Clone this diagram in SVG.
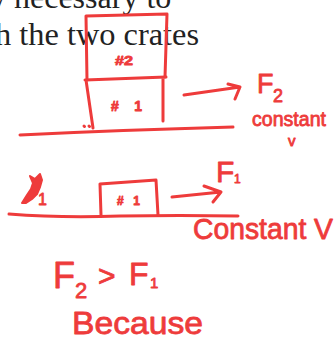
<svg xmlns="http://www.w3.org/2000/svg" width="335" height="349" viewBox="0 0 335 349">
<style>
.ink{fill:none;stroke:#ee3b3b;stroke-width:3;stroke-linecap:round;stroke-linejoin:round}
.hw{fill:#ee3b3b;stroke:#ee3b3b;stroke-width:0.8;stroke-linejoin:round;font-family:"Liberation Sans",Arial,sans-serif}
.pr{fill:#222;font-family:"Liberation Serif","Times New Roman",serif;font-size:32px}
</style>
<rect width="335" height="349" fill="#fff"/>
<g id="printed-text">
<text class="pr" x="-10" y="8">y necessary to</text>
<text class="pr" x="-5" y="45" textLength="204" lengthAdjust="spacingAndGlyphs">h the two crates</text>
</g>
<g id="scene-stacked">
<g id="crate2">
<path class="ink" d="M86,16 L167,14 L165,77 M86,16 L87,80"/>
<text class="hw" x="115" y="65" font-size="12" font-weight="bold" textLength="18" lengthAdjust="spacingAndGlyphs">#2</text>
</g>
<g id="crate1-stacked">
<path class="ink" d="M85,80 L166,77 M86,80 L93,128 M163,78 L163,121"/>
<text class="hw" x="111" y="111" font-size="14" font-weight="bold" textLength="31" lengthAdjust="spacing">#1</text>
</g>
<path class="ink" d="M20,135 Q120,130 233,127"/>
<path class="ink" d="M84,126 l0.5,0.5 M89,126 l0.5,0.5"/>
<g id="F2-arrow">
<path class="ink" d="M184,95 L240,87 M228,84 L240,87 L235,99"/>
</g>
<g id="F2-label">
<text class="hw" x="257" y="93" font-size="27">F</text>
<text class="hw" x="273" y="102" font-size="18">2</text>
<text class="hw" x="252" y="126" font-size="20" textLength="74" lengthAdjust="spacingAndGlyphs">constant</text>
<text class="hw" x="288" y="146" font-size="15">v</text>
</g>
</g>
<g id="scene-single">
<path class="ink" d="M9,214 Q60,218 120,216 Q180,215 238,216"/>
<g id="crate1">
<path class="ink" d="M100,184 L156,180 L158,215 M100,184 L101,215"/>
<text class="hw" x="117" y="205" font-size="12" font-weight="bold" textLength="23" lengthAdjust="spacing">#1</text>
</g>
<g id="m1">
<path d="M22,203 L27,195 L31,189 L33,183 L30,176 L35,179 L40,174 L42,180 L40,187 L37,194 L32,199 L26,203 Z" fill="#ee3b3b" stroke="#ee3b3b" stroke-width="2" stroke-linejoin="round"/>
<text class="hw" x="38" y="205" font-size="16">1</text>
</g>
<g id="F1-arrow">
<path class="ink" d="M172,197 L221,192 M204,186 L221,192 L213,202"/>
</g>
<g id="F1-label">
<text class="hw" x="216" y="182" font-size="30">F</text>
<text class="hw" x="234" y="183" font-size="12">1</text>
<text class="hw" x="193" y="239" font-size="29" textLength="140" lengthAdjust="spacingAndGlyphs">Constant V</text>
</g>
</g>
<g id="conclusion">
<text class="hw" x="53" y="288" font-size="36">F</text>
<text class="hw" x="75" y="298" font-size="22">2</text>
<text class="hw" x="98" y="286" font-size="30">&gt;</text>
<text class="hw" x="129" y="285" font-size="32">F</text>
<text class="hw" x="150" y="288" font-size="15">1</text>
<text class="hw" x="72" y="334" font-size="32" textLength="131" lengthAdjust="spacingAndGlyphs">Because</text>
</g>
</svg>
